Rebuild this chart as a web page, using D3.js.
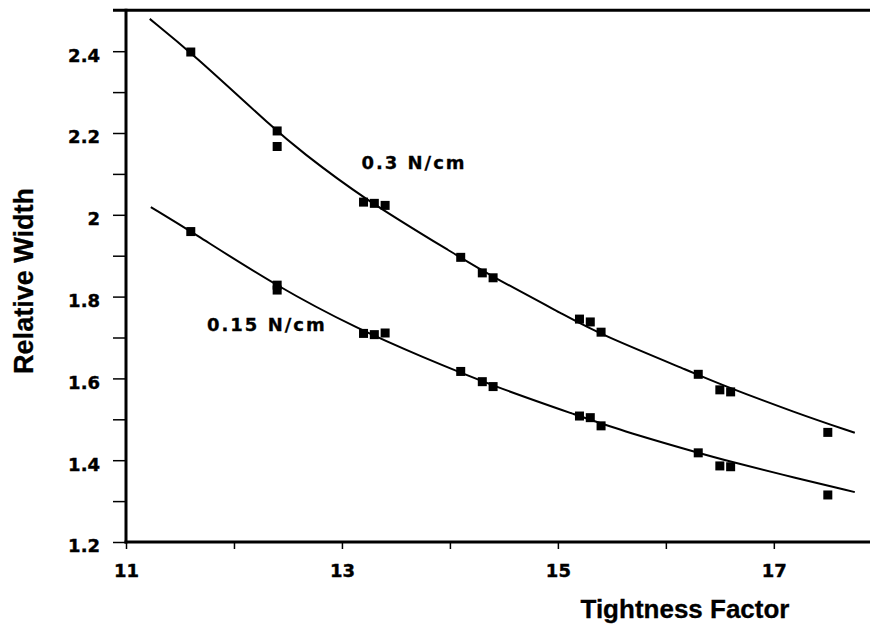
<!DOCTYPE html>
<html>
<head>
<meta charset="utf-8">
<script src="https://cdn.jsdelivr.net/npm/d3@7"></script>
<style>
  body { margin: 0; background: #fff; }
  .tick text { font-family: "DejaVu Sans", sans-serif; font-weight: bold; font-size: 18px; fill: #000; stroke: #000; stroke-width: 0.4px; }
  .axisTitle { font-family: "Liberation Sans", Arial, sans-serif; font-weight: bold; fill: #000; stroke: #000; stroke-width: 0.3px; }
  .seriesLabel { font-family: "DejaVu Sans", sans-serif; font-weight: bold; font-size: 18px; letter-spacing: 2px; fill: #000; stroke: #000; stroke-width: 0.3px; }
</style>
</head>
<body>
<div id="chart"></div>
<script>
// measured points, 0.3 N/cm
var highX = [11.6, 12.4, 12.4, 13.2, 13.3, 13.4, 14.1, 14.3, 14.4, 15.2, 15.3, 15.4, 16.3, 16.5, 16.6, 17.5];
var highY = [2.398, 2.205, 2.167, 2.031, 2.028, 2.023, 1.896, 1.858, 1.846, 1.745, 1.738, 1.713, 1.610, 1.572, 1.567, 1.468];

// measured points, 0.15 N/cm
var lowX = [11.6, 12.4, 12.4, 13.2, 13.3, 13.4, 14.1, 14.3, 14.4, 15.2, 15.3, 15.4, 16.3, 16.5, 16.6, 17.5];
var lowY = [1.959, 1.828, 1.816, 1.710, 1.707, 1.711, 1.617, 1.592, 1.580, 1.508, 1.504, 1.484, 1.418, 1.386, 1.384, 1.315];

// fitted curves
var highFitX = [11.22, 11.6, 12.4, 12.61, 13.17, 14.09, 14.35, 15.11, 15.39, 16.29, 16.5, 17.21, 17.75];
var highFitY = [2.479, 2.398, 2.203, 2.158, 2.044, 1.897, 1.855, 1.748, 1.708, 1.610, 1.586, 1.515, 1.467];
var lowFitX = [11.23, 11.6, 12.4, 13.17, 13.72, 14.4, 15.2, 15.57, 16.3, 16.59, 17.21, 17.75];
var lowFitY = [2.019, 1.960, 1.824, 1.718, 1.655, 1.581, 1.508, 1.474, 1.418, 1.397, 1.356, 1.322];

var seriesNames = ["0.3 N/cm", "0.15 N/cm"];
var labelX = [13.18, 11.75];
var labelY = [2.112, 1.716];

var xTicks = [11, 12, 13, 14, 15, 16, 17];
var xLabels = [11, 13, 15, 17];
var yTicks = [1.2, 1.3, 1.4, 1.5, 1.6, 1.7, 1.8, 1.9, 2.0, 2.1, 2.2, 2.3, 2.4];
var yLabels = [1.2, 1.4, 1.6, 1.8, 2.0, 2.2, 2.4];

var width = 870, height = 627;

var x = d3.scaleLinear().domain([11, 17.9]).range([126, 871]);
var y = d3.scaleLinear().domain([1.2, 2.5]).range([542, 10.3]);

var svg = d3.select("#chart").append("svg")
    .attr("width", width)
    .attr("height", height);

// y axis
var gy = svg.append("g")
    .attr("transform", "translate(126,0)")
    .call(d3.axisLeft(y)
      .tickValues(yTicks)
      .tickSize(13)
      .tickPadding(13)
      .tickFormat(function(d) {
        var hit = yLabels.some(function(v) { return Math.abs(v - d) < 1e-6; });
        return hit ? d3.format("~g")(d) : "";
      }));
gy.select(".domain").remove();
gy.selectAll(".tick line").attr("stroke", "#000").attr("stroke-width", 1.5);
gy.selectAll(".tick text").attr("dy", "0.55em");

// x axis
var gx = svg.append("g")
    .attr("transform", "translate(0,542)")
    .call(d3.axisBottom(x)
      .tickValues(xTicks)
      .tickSize(7)
      .tickPadding(15)
      .tickFormat(function(d) { return xLabels.indexOf(d) >= 0 ? d : ""; }));
gx.select(".domain").remove();
gx.selectAll(".tick line").attr("stroke", "#000").attr("stroke-width", 1.5);

// frame lines: left, bottom, top
svg.append("line")
    .attr("x1", x(11)).attr("x2", x(11))
    .attr("y1", y(1.2) + 1.5).attr("y2", y(2.5) - 1.5)
    .attr("stroke", "#000").attr("stroke-width", 3);
svg.append("line")
    .attr("x1", x(11) - 1.5).attr("x2", width)
    .attr("y1", y(1.2)).attr("y2", y(1.2))
    .attr("stroke", "#000").attr("stroke-width", 3);
svg.append("line")
    .attr("x1", 113).attr("x2", width)
    .attr("y1", y(2.5)).attr("y2", y(2.5))
    .attr("stroke", "#000").attr("stroke-width", 3);

// fitted curves
var line = d3.line()
    .x(function(d) { return x(d[0]); })
    .y(function(d) { return y(d[1]); })
    .curve(d3.curveBasis);

[[highFitX, highFitY], [lowFitX, lowFitY]].forEach(function(s) {
  var pts = s[0].map(function(v, i) { return [v, s[1][i]]; });
  svg.append("path")
      .datum(pts)
      .attr("d", line)
      .attr("fill", "none")
      .attr("stroke", "#000")
      .attr("stroke-width", 2);
});

// points
var sq = 9;
[[highX, highY], [lowX, lowY]].forEach(function(s) {
  var pts = s[0].map(function(v, i) { return [v, s[1][i]]; });
  svg.append("g").selectAll(".point")
      .data(pts)
      .enter().append("rect")
      .attr("class", "point")
      .attr("x", function(d) { return x(d[0]) - sq / 2; })
      .attr("y", function(d) { return y(d[1]) - sq / 2; })
      .attr("width", sq)
      .attr("height", sq)
      .attr("fill", "#000");
});

// series labels
svg.selectAll(".seriesLabel")
    .data(seriesNames)
    .enter().append("text")
    .attr("class", "seriesLabel")
    .attr("x", function(d, i) { return x(labelX[i]); })
    .attr("y", function(d, i) { return y(labelY[i]); })
    .text(function(d) { return d; });

// axis titles
svg.append("text")
    .attr("class", "axisTitle")
    .attr("x", 685)
    .attr("y", 618)
    .attr("text-anchor", "middle")
    .style("font-size", "26px")
    .text("Tightness Factor");

svg.append("text")
    .attr("class", "axisTitle")
    .attr("transform", "translate(33,281)rotate(-90)")
    .attr("text-anchor", "middle")
    .style("font-size", "27px")
    .text("Relative Width");
</script>
</body>
</html>
